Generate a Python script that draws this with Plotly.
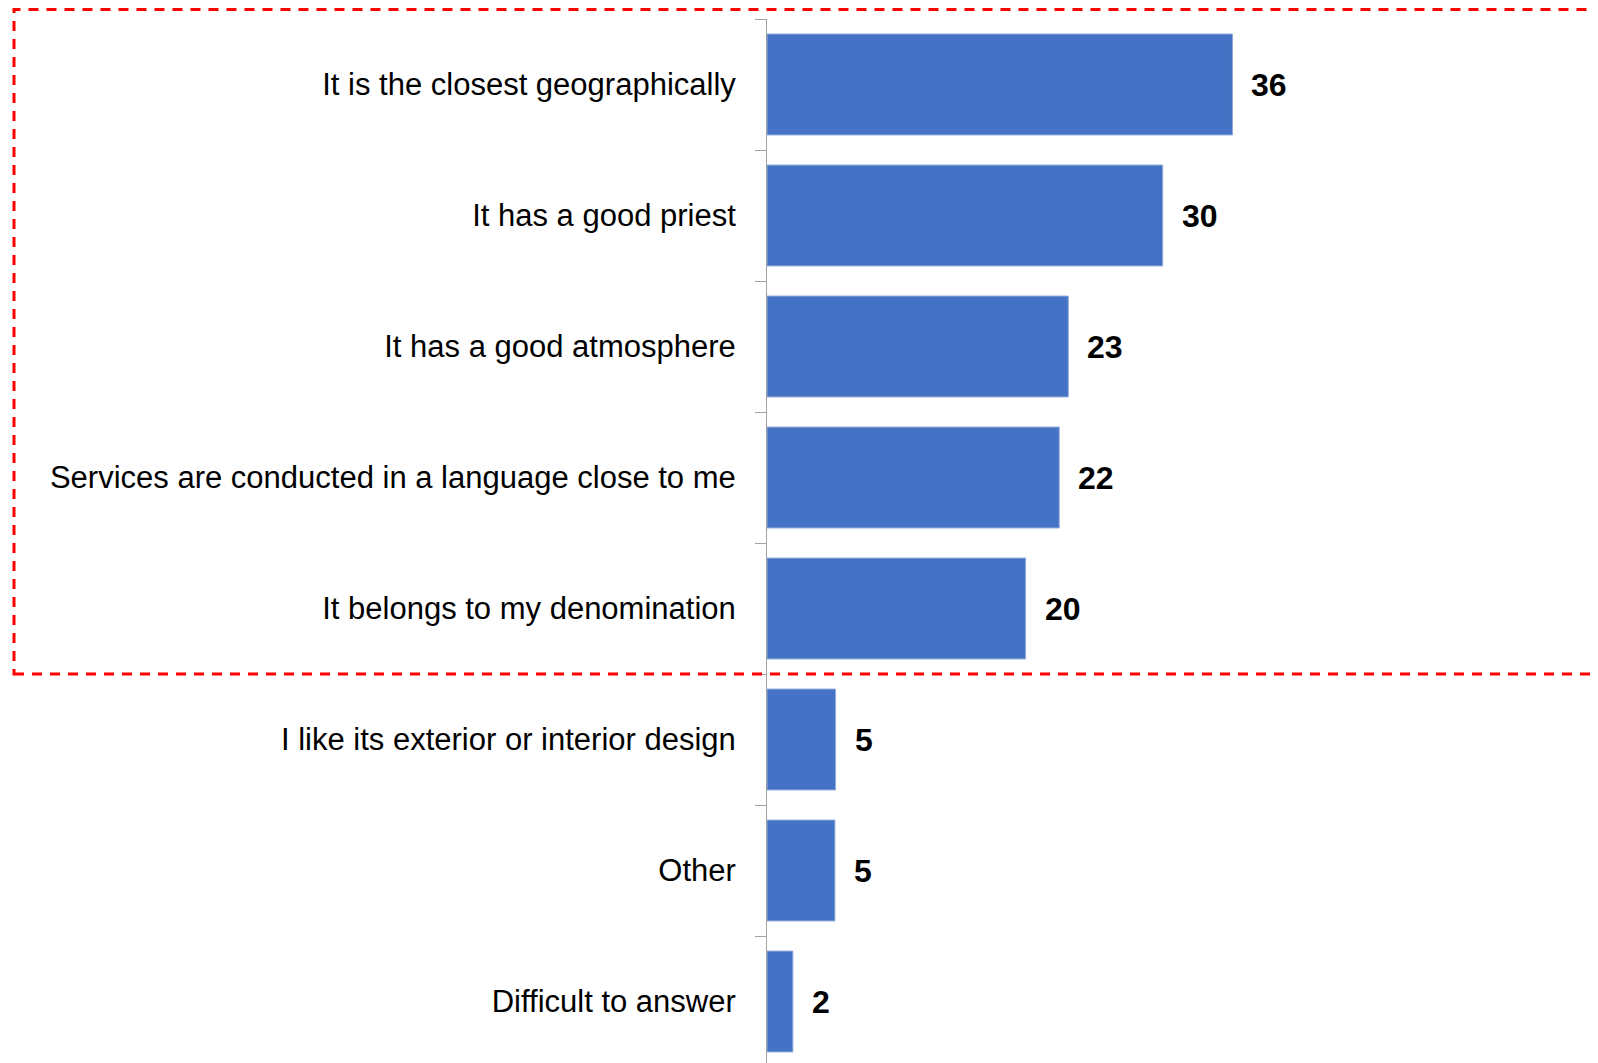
import plotly.graph_objects as go

categories = [
    "It is the closest geographically",
    "It has a good priest",
    "It has a good atmosphere",
    "Services are conducted in a language close to me",
    "It belongs to my denomination",
    "I like its exterior or interior design",
    "Other",
    "Difficult to answer",
]
values = [36, 30.6, 23.3, 22.6, 20, 5.3, 5.25, 2]
labels = ["36", "30", "23", "22", "20", "5", "5", "2"]

FONT = "Liberation Sans, Arial, sans-serif"
OFF = 8  # default page body margin
W, H = 1598, 1063
L, T, B = 767 - OFF, 19 - OFF, 4
plot_w = W - L
plot_h = H - T - B

fig = go.Figure(go.Bar(
    x=values, y=categories, orientation="h",
    marker=dict(color="#4472C4", line=dict(color="#8EA9DB", width=1)),
    width=0.77,
))

for v, c, t in zip(values, categories, labels):
    fig.add_annotation(x=v, y=c, text="<b>" + t + "</b>", showarrow=False,
                       xanchor="left", yanchor="middle", xshift=17,
                       font=dict(family=FONT, size=32, color="black"))

def px_to_paper_x(px):
    return (px - OFF - L) / plot_w

def px_to_paper_y(py):
    return (H - B - (py - OFF)) / plot_h

fig.add_shape(type="rect", xref="paper", yref="paper",
              x0=px_to_paper_x(14), x1=px_to_paper_x(1620),
              y0=px_to_paper_y(674), y1=px_to_paper_y(9.5),
              line=dict(color="#FF0000", width=3, dash="10px,8px"),
              fillcolor="rgba(0,0,0,0)", layer="above")

fig.update_layout(
    width=W, height=H,
    margin=dict(l=L, r=0, t=T, b=B, pad=0, autoexpand=False),
    plot_bgcolor="white", paper_bgcolor="white",
    showlegend=False,
    font=dict(family=FONT, size=31, color="black"),
    xaxis=dict(range=[0, plot_w / 12.93], visible=False, fixedrange=True, automargin=False),
    yaxis=dict(autorange="reversed", showline=True, linecolor="#A0A0A0", linewidth=1,
               ticks="outside", tickson="boundaries", ticklen=11, tickcolor="#A0A0A0",
               ticklabelstandoff=24, showgrid=False, zeroline=False, automargin=False,
               tickfont=dict(family=FONT, size=31, color="black")),
)

fig.write_html("out.html")
